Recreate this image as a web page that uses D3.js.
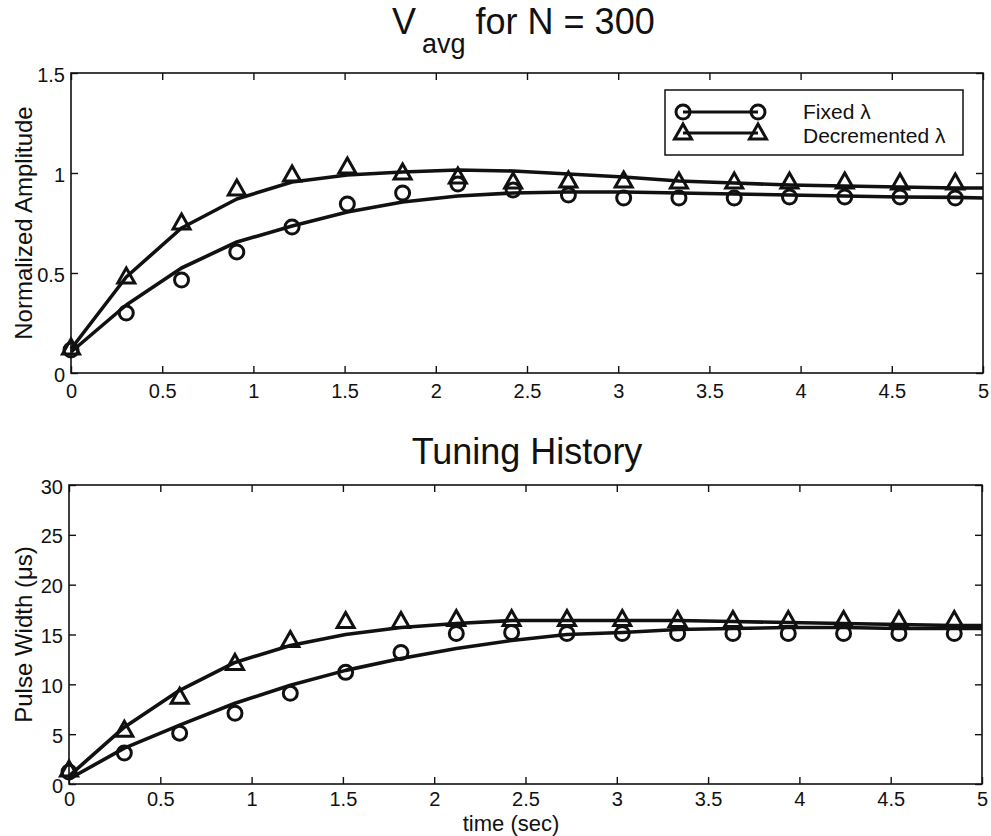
<!DOCTYPE html>
<html>
<head>
<meta charset="utf-8">
<script src="https://cdn.jsdelivr.net/npm/d3@7"></script>
<style>
  html, body { margin: 0; padding: 0; background: #fff; }
  svg { display: block; font-family: "Liberation Sans", Arial, Helvetica, sans-serif; }
</style>
</head>
<body>
<div id="chart"></div>
<script>
// sample instants (s) shared by both panels
const times = [0, 0.303, 0.606, 0.909, 1.212, 1.515, 1.818, 2.121, 2.424, 2.727, 3.03, 3.333, 3.636, 3.939, 4.242, 4.545, 4.848];
// fitted curves carry one extra vertex at the end of the axis
const lineTimes = [0, 0.303, 0.606, 0.909, 1.212, 1.515, 1.818, 2.121, 2.424, 2.727, 3.03, 3.333, 3.636, 3.939, 4.242, 4.545, 4.848, 5];

// top panel: V_avg (normalized amplitude)
const ampFixedPts = [0.115, 0.30, 0.465, 0.605, 0.73, 0.845, 0.90, 0.945, 0.915, 0.89, 0.875, 0.875, 0.875, 0.88, 0.88, 0.88, 0.875];
const ampDecPts   = [0.125, 0.48, 0.75, 0.92, 0.99, 1.03, 1.0, 0.98, 0.955, 0.96, 0.96, 0.955, 0.955, 0.955, 0.955, 0.95, 0.95];
const ampFixedLine = [0.105, 0.34, 0.525, 0.655, 0.735, 0.805, 0.855, 0.885, 0.90, 0.905, 0.905, 0.90, 0.895, 0.89, 0.885, 0.88, 0.878, 0.875];
const ampDecLine   = [0.12, 0.48, 0.725, 0.87, 0.955, 0.99, 1.005, 1.015, 1.01, 0.995, 0.98, 0.96, 0.95, 0.94, 0.935, 0.93, 0.925, 0.925];

// bottom panel: tuning history (pulse width, µs)
const pwFixedPts = [1.2, 3.1, 5.1, 7.1, 9.1, 11.2, 13.2, 15.1, 15.2, 15.1, 15.1, 15.1, 15.1, 15.1, 15.1, 15.1, 15.1];
const pwDecPts   = [1.4, 5.4, 8.7, 12.1, 14.4, 16.3, 16.3, 16.5, 16.5, 16.5, 16.5, 16.4, 16.4, 16.4, 16.4, 16.4, 16.4];
const pwFixedLine = [0.5, 3.6, 5.9, 8.1, 9.9, 11.4, 12.6, 13.6, 14.4, 15.0, 15.2, 15.5, 15.6, 15.7, 15.7, 15.6, 15.6, 15.6];
const pwDecLine   = [0.8, 5.7, 9.4, 12.2, 13.9, 15.0, 15.7, 16.1, 16.4, 16.4, 16.4, 16.4, 16.3, 16.2, 16.1, 16.0, 15.9, 15.9];

const xTicks = [0, 0.5, 1, 1.5, 2, 2.5, 3, 3.5, 4, 4.5, 5];
const ampTicks = [0, 0.5, 1, 1.5];
const pwTicks = [0, 5, 10, 15, 20, 25, 30];
const legendLabels = ["Fixed \u03bb", "Decremented \u03bb"];

const W = 991, H = 836;
const INK = "#111";
const svg = d3.select("#chart").append("svg").attr("width", W).attr("height", H);

function marker(g, kind, x, y) {
  if (kind === "circle") {
    g.append("circle").attr("cx", x).attr("cy", y).attr("r", 7)
      .attr("fill", "none").attr("stroke", INK).attr("stroke-width", 3);
  } else {
    g.append("path").attr("d", `M${x},${y - 9}L${x + 8.5},${y + 6}L${x - 8.5},${y + 6}Z`)
      .attr("fill", "none").attr("stroke", INK).attr("stroke-width", 3);
  }
}

function panel(o) {
  const x = d3.scaleLinear().domain([0, 5]).range([o.left, o.right]);
  const y = d3.scaleLinear().domain(o.yDomain).range([o.bottom, o.top]);
  const g = svg.append("g");

  // caja de ejes con marcas hacia dentro en los cuatro lados
  const tick = 7;
  const axes = [
    { ax: d3.axisBottom(x).tickValues(xTicks).tickSize(-tick).tickFormat(d3.format("~g")), t: `translate(0,${o.bottom})`, side: "b" },
    { ax: d3.axisTop(x).tickValues(xTicks).tickSize(-tick).tickFormat(""), t: `translate(0,${o.top})`, side: "t" },
    { ax: d3.axisLeft(y).tickValues(o.yTicks).tickSize(-tick).tickFormat(d3.format("~g")), t: `translate(${o.left},0)`, side: "l" },
    { ax: d3.axisRight(y).tickValues(o.yTicks).tickSize(-tick).tickFormat(""), t: `translate(${o.right},0)`, side: "r" },
  ];
  axes.forEach(a => {
    const ag = g.append("g").attr("transform", a.t).call(a.ax);
    ag.select(".domain").remove();
    ag.selectAll(".tick line").attr("stroke", INK).attr("stroke-width", 1.4);
    const tx = ag.selectAll(".tick text").attr("fill", INK).attr("font-size", 20)
      .attr("font-family", "Liberation Sans, Arial, sans-serif");
    if (a.side === "b") tx.attr("y", o.xLabDy).attr("dy", 0);
    if (a.side === "l") tx.attr("x", -6).attr("dy", "0.4em");
  });
  g.append("rect").attr("x", o.left).attr("y", o.top).attr("width", o.right - o.left)
    .attr("height", o.bottom - o.top).attr("fill", "none").attr("stroke", INK).attr("stroke-width", 1.6);

  const line = d3.line().x(d => x(d[0])).y(d => y(d[1]));
  o.series.forEach(s => {
    g.append("path").attr("d", line(d3.zip(lineTimes, s.line)))
      .attr("fill", "none").attr("stroke", INK).attr("stroke-width", 3.6).attr("stroke-linejoin", "round");
  });
  o.series.forEach(s => {
    const mg = g.append("g");
    d3.zip(times, s.pts).forEach(([t, v]) => marker(mg, s.kind, x(t), y(v)));
  });

  // etiqueta del eje y (rotada)
  g.append("text").attr("transform", `translate(${o.yLabX},${(o.top + o.bottom) / 2}) rotate(-90)`)
    .attr("text-anchor", "middle").attr("font-size", 24).attr("fill", INK).text(o.yLabel);
  return { x, y };
}

panel({
  left: 71, right: 983, top: 73, bottom: 373,
  yDomain: [0, 1.5], yTicks: ampTicks, xLabDy: 25,
  yLabel: "Normalized Amplitude", yLabX: 32,
  series: [
    { kind: "circle", pts: ampFixedPts, line: ampFixedLine },
    { kind: "tri", pts: ampDecPts, line: ampDecLine },
  ],
});

panel({
  left: 69, right: 982, top: 485, bottom: 784,
  yDomain: [0, 30], yTicks: pwTicks, xLabDy: 22,
  yLabel: "Pulse Width (\u03bcs)", yLabX: 32,
  series: [
    { kind: "circle", pts: pwFixedPts, line: pwFixedLine },
    { kind: "tri", pts: pwDecPts, line: pwDecLine },
  ],
});

// títulos
const t1 = svg.append("text").attr("x", 392).attr("y", 34).attr("font-size", 36).attr("fill", INK);
t1.append("tspan").text("V");
t1.append("tspan").attr("dx", 6).attr("dy", 19).attr("font-size", 27).text("avg");
t1.append("tspan").attr("dy", -19).text(" for N = 300");

svg.append("text").attr("x", 527).attr("y", 464).attr("text-anchor", "middle")
  .attr("font-size", 36).attr("fill", INK).text("Tuning History");

svg.append("text").attr("x", 511).attr("y", 831).attr("text-anchor", "middle")
  .attr("font-size", 22).attr("fill", INK).text("time (sec)");

// leyenda
const lg = svg.append("g");
lg.append("rect").attr("x", 665).attr("y", 90).attr("width", 298).attr("height", 65)
  .attr("fill", "#fff").attr("stroke", INK).attr("stroke-width", 1.5);
[["circle", 112, 119], ["tri", 133, 143]].forEach(([k, yy, base], i) => {
  lg.append("line").attr("x1", 683).attr("x2", 758).attr("y1", yy).attr("y2", yy)
    .attr("stroke", INK).attr("stroke-width", 3);
  marker(lg, k, 683, yy);
  marker(lg, k, 758, yy);
  lg.append("text").attr("x", 803).attr("y", base).attr("font-size", 21).attr("fill", INK).text(legendLabels[i]);
});
</script>
</body>
</html>
